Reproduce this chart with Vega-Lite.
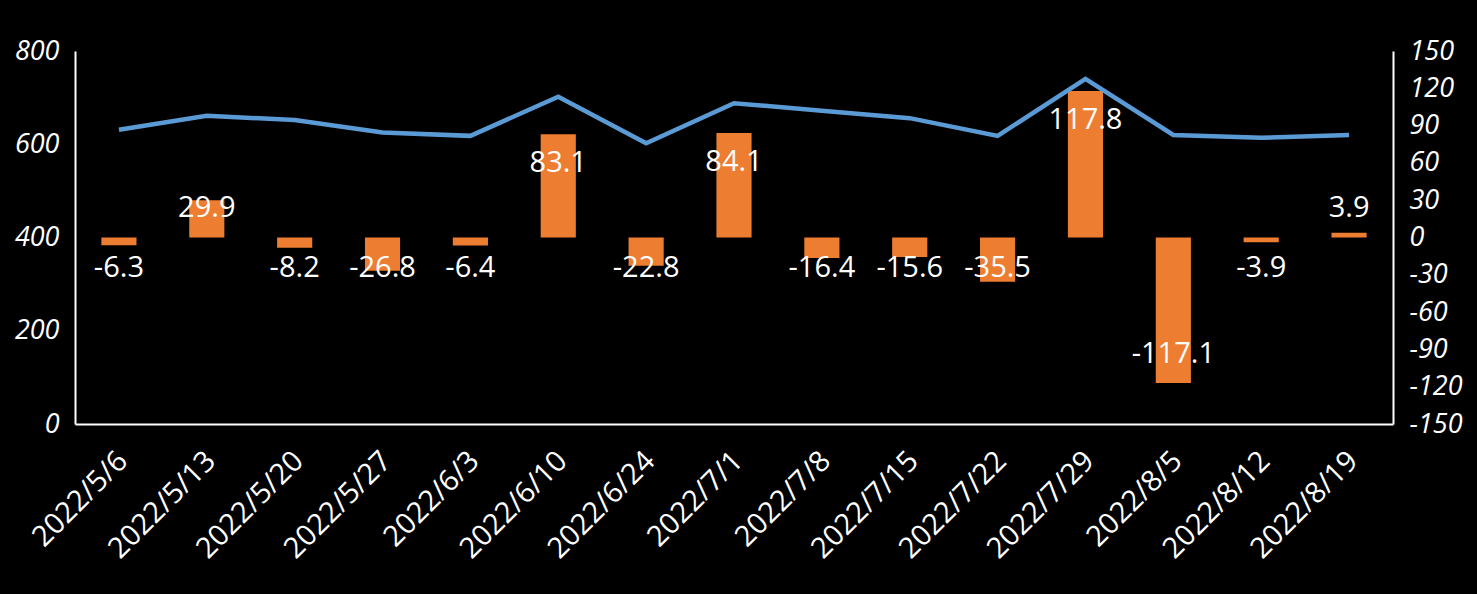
{
  "$schema": "https://vega.github.io/schema/vega-lite/v6.json",
  "width": 1318,
  "height": 373,
  "autosize": {"type": "none"},
  "padding": {"left": 75, "top": 51, "right": 84, "bottom": 170},
  "background": "black",
  "config": {
    "view": {"stroke": null},
    "font": "Open Sans",
    "locale": {
      "number": {"decimal": ".", "thousands": ",", "grouping": [3], "currency": ["$", ""], "minus": "-"}
    },
    "axis": {
      "grid": false,
      "ticks": false,
      "domainColor": "white",
      "domainWidth": 2,
      "labelColor": "white",
      "labelFont": "Open Sans",
      "labelFontSize": 27,
      "title": null
    }
  },
  "data": {
    "values": [
      {"date": "2022/5/6", "price": 631, "change": -6.3},
      {"date": "2022/5/13", "price": 661, "change": 29.9},
      {"date": "2022/5/20", "price": 652, "change": -8.2},
      {"date": "2022/5/27", "price": 625, "change": -26.8},
      {"date": "2022/6/3", "price": 618, "change": -6.4},
      {"date": "2022/6/10", "price": 702, "change": 83.1},
      {"date": "2022/6/24", "price": 602, "change": -22.8},
      {"date": "2022/7/1", "price": 688, "change": 84.1},
      {"date": "2022/7/8", "price": 672, "change": -16.4},
      {"date": "2022/7/15", "price": 656, "change": -15.6},
      {"date": "2022/7/22", "price": 618, "change": -35.5},
      {"date": "2022/7/29", "price": 740, "change": 117.8},
      {"date": "2022/8/5", "price": 620, "change": -117.1},
      {"date": "2022/8/12", "price": 614, "change": -3.9},
      {"date": "2022/8/19", "price": 620, "change": 3.9}
    ]
  },
  "encoding": {
    "x": {
      "field": "date",
      "type": "nominal",
      "sort": null,
      "scale": {"paddingInner": 0.6, "paddingOuter": 0.3},
      "axis": {
        "labelAngle": -45,
        "labelAlign": "right",
        "labelBaseline": "middle",
        "labelPadding": 32,
        "labelOffset": 4,
        "labelFontSize": 29
      }
    }
  },
  "layer": [
    {
      "mark": {"type": "bar", "color": "#ED7D31"},
      "encoding": {
        "y": {
          "field": "change",
          "type": "quantitative",
          "scale": {"domain": [-150, 150], "nice": false, "zero": false},
          "axis": {
            "orient": "right",
            "values": [-150, -120, -90, -60, -30, 0, 30, 60, 90, 120, 150],
            "labelFontStyle": "italic",
            "labelPadding": 16
          }
        }
      }
    },
    {
      "mark": {"type": "line", "color": "#5B9BD5", "strokeWidth": 4.5},
      "encoding": {
        "y": {
          "field": "price",
          "type": "quantitative",
          "scale": {"domain": [0, 800], "nice": false},
          "axis": {
            "orient": "left",
            "values": [0, 200, 400, 600, 800],
            "labelFontStyle": "italic",
            "labelPadding": 16
          }
        }
      }
    },
    {
      "layer": [
        {
          "transform": [{"filter": "datum.change >= 47"}],
          "mark": {"type": "text", "color": "white", "fontSize": 29, "dy": 29, "baseline": "middle"},
          "encoding": {
            "y": {"field": "change", "type": "quantitative", "scale": {"domain": [-150, 150], "nice": false, "zero": false}, "axis": null},
            "text": {"field": "change", "type": "quantitative", "format": ".1f"}
          }
        },
        {
          "transform": [{"filter": "datum.change <= -47"}],
          "mark": {"type": "text", "color": "white", "fontSize": 29, "dy": -29, "baseline": "middle"},
          "encoding": {
            "y": {"field": "change", "type": "quantitative", "axis": null},
            "text": {"field": "change", "type": "quantitative", "format": ".1f"}
          }
        },
        {
          "transform": [{"filter": "datum.change >= 0 && datum.change < 47"}],
          "mark": {"type": "text", "color": "white", "fontSize": 29, "dy": -30, "baseline": "middle"},
          "encoding": {
            "y": {"datum": 0, "type": "quantitative", "axis": null},
            "text": {"field": "change", "type": "quantitative", "format": ".1f"}
          }
        },
        {
          "transform": [{"filter": "datum.change < 0 && datum.change > -47"}],
          "mark": {"type": "text", "color": "white", "fontSize": 29, "dy": 30, "baseline": "middle"},
          "encoding": {
            "y": {"datum": 0, "type": "quantitative", "axis": null},
            "text": {"field": "change", "type": "quantitative", "format": ".1f"}
          }
        }
      ]
    }
  ],
  "resolve": {"scale": {"y": "independent"}}
}
